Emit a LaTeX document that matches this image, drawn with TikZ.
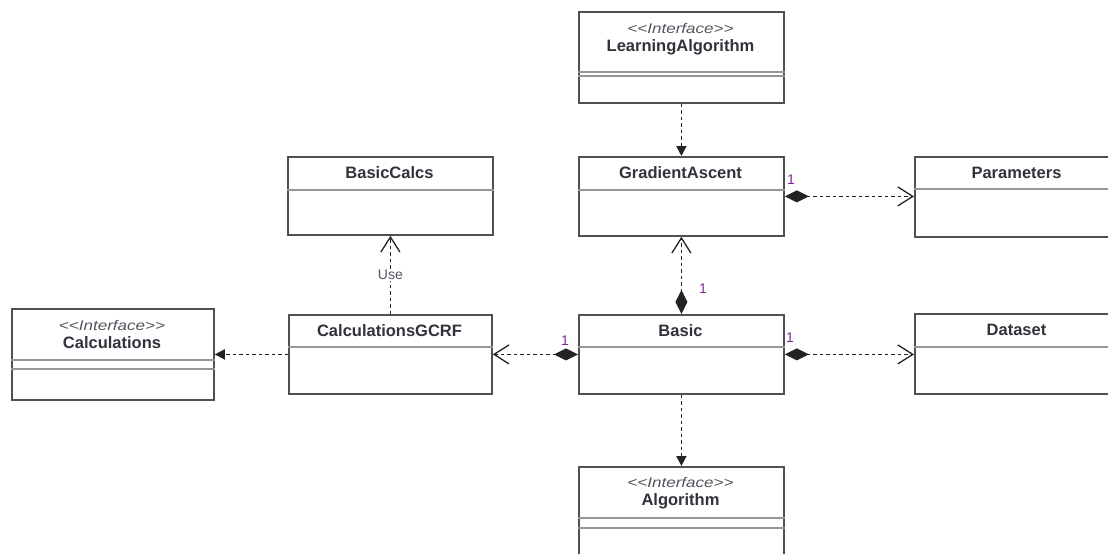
\documentclass[tikz,border=0pt]{standalone}
\usepackage{fontspec}
\setmainfont{Liberation Sans}
\usepackage{graphicx}
\usepackage{tikz}
\usetikzlibrary{arrows.meta,positioning}

\definecolor{boxgray}{RGB}{80,80,80}
\definecolor{linedark}{RGB}{35,35,35}
\definecolor{sepgray}{RGB}{150,150,150}
\definecolor{txtdark}{RGB}{50,50,60}
\definecolor{stereogray}{RGB}{85,85,95}
\definecolor{multpurple}{RGB}{130,40,150}

\tikzset{
  classbox/.style={draw=boxgray, line width=1.8pt, anchor=north west, inner sep=0pt, fill=white},
  sepline/.style={draw=sepgray, line width=1.3pt},
  classname/.style={font=\fontsize{16.5}{18}\selectfont\bfseries, text=txtdark, inner sep=0pt},
  stereo/.style={font=\fontsize{14}{16}\selectfont\itshape, text=stereogray, inner sep=0pt},
  mult/.style={font=\fontsize{14}{16}\selectfont, text=multpurple, inner sep=0pt},
  uselabel/.style={font=\fontsize{14}{16}\selectfont, text=stereogray, fill=white, inner sep=1pt},
  dep/.style={draw=linedark, line width=1.8pt, dash pattern=on 3.5pt off 3pt},
  realize/.style={dep, -{Triangle[length=10pt,width=10pt]}},
  usedep/.style={dep, -{Straight Barb[length=15pt,width=19pt,line width=1.3pt]}},
  owns/.style={dep, {Diamond[length=24pt,width=12pt]}-{Straight Barb[length=15pt,width=19pt,line width=1.3pt]}},
}

\newcommand{\stereotxt}{\scalebox{1.22}[1]{<\kern0pt<Interface>\kern0pt>}}

\begin{document}
\begin{tikzpicture}[x=1pt, y=-1pt]
\useasboundingbox (0,0) rectangle (1108,554);
\clip (0,0) rectangle (1108,554);

\node[classbox, minimum width=205pt, minimum height=91pt] (LA) at (578,11) {};
\node[classbox, minimum width=205pt, minimum height=79pt] (GA) at (578,156) {};
\node[classbox, minimum width=205pt, minimum height=78pt] (BC) at (287,156) {};
\node[classbox, minimum width=205pt, minimum height=80pt] (Par) at (914,156) {};
\node[classbox, minimum width=205pt, minimum height=79pt] (Basic) at (578,314) {};
\node[classbox, minimum width=203pt, minimum height=79pt] (GCRF) at (288,314) {};
\node[classbox, minimum width=205pt, minimum height=80pt] (Data) at (914,313) {};
\node[classbox, minimum width=202pt, minimum height=91pt] (Calc) at (11,308) {};
\node[classbox, minimum width=205pt, minimum height=100pt] (Alg) at (578,466) {};

\draw[sepline] ([yshift=-61pt]LA.north west) -- ([yshift=-61pt]LA.north east);
\draw[sepline] ([yshift=-65pt]LA.north west) -- ([yshift=-65pt]LA.north east);
\draw[sepline] ([yshift=-34pt]GA.north west) -- ([yshift=-34pt]GA.north east);
\draw[sepline] ([yshift=-34pt]BC.north west) -- ([yshift=-34pt]BC.north east);
\draw[sepline] ([yshift=-33pt]Par.north west) -- ([yshift=-33pt]Par.north east);
\draw[sepline] ([yshift=-33pt]Basic.north west) -- ([yshift=-33pt]Basic.north east);
\draw[sepline] ([yshift=-33pt]GCRF.north west) -- ([yshift=-33pt]GCRF.north east);
\draw[sepline] ([yshift=-34pt]Data.north west) -- ([yshift=-34pt]Data.north east);
\draw[sepline] ([yshift=-52pt]Calc.north west) -- ([yshift=-52pt]Calc.north east);
\draw[sepline] ([yshift=-61pt]Calc.north west) -- ([yshift=-61pt]Calc.north east);
\draw[sepline] ([yshift=-52pt]Alg.north west) -- ([yshift=-52pt]Alg.north east);
\draw[sepline] ([yshift=-62pt]Alg.north west) -- ([yshift=-62pt]Alg.north east);

\node[stereo] (LA-s) at (680.5,28) {\stereotxt};
\node[classname] (LA-t) at (680.5,47.5) {LearningAlgorithm};
\node[classname] (GA-t) at (680.5,173) {GradientAscent};
\node[classname] (BC-t) at (389.5,173) {BasicCalcs};
\node[classname] (Par-t) at (1016.5,172.5) {Parameters};
\node[classname] (Basic-t) at (680.5,330.5) {Basic};
\node[classname] (GCRF-t) at (389.5,330.5) {CalculationsGCRF};
\node[classname] (Data-t) at (1016.5,330) {Dataset};
\node[stereo] (Calc-s) at (112,325) {\stereotxt};
\node[classname] (Calc-t) at (112,343) {Calculations};
\node[stereo] (Alg-s) at (680.5,482) {\stereotxt};
\node[classname] (Alg-t) at (680.5,501) {Algorithm};

\draw[realize] (LA.south) -- (GA.north);
\draw[owns] (GA.east) -- (GA.east -| Par.west);
\draw[owns] (Basic.north) -- (GA.south);
\draw[owns] (Basic.west) -- (Basic.west -| GCRF.east);
\draw[owns] (Basic.east) -- (Basic.east -| Data.west);
\draw[usedep] (GCRF.north) -- node[uselabel] (use) {Use} (GCRF.north |- BC.south);
\draw[realize] (GCRF.west) -- (GCRF.west -| Calc.east);
\draw[realize] (Basic.south) -- (Alg.north);

\node[mult] (m1) at (791,180) {1};
\node[mult] (m2) at (703,289) {1};
\node[mult] (m3) at (565,341) {1};
\node[mult] (m4) at (790,338) {1};
\end{tikzpicture}
\end{document}
